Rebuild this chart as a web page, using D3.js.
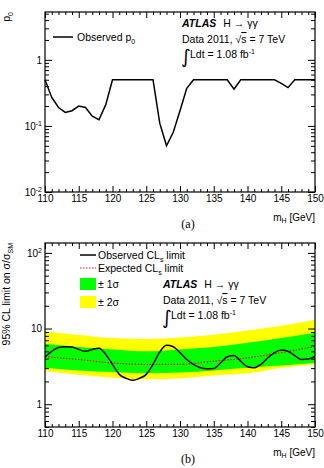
<!DOCTYPE html>
<html lang="en">
<head>
<meta charset="UTF-8">
<script src="https://d3js.org/d3.v7.min.js"></script>
<style>
  body { margin: 0; background: #fff; }
  svg { display: block; font-family: "Liberation Sans", Arial, sans-serif; }
  .tick text { font-size: 10px; fill: #000; }
  .tick line { stroke: #000; }
</style>
</head>
<body>
<svg id="chart" width="324" height="468"></svg>
<script>
// x axis (Higgs mass, GeV)
const massMajor = [110, 115, 120, 125, 130, 135, 140, 145, 150];
const massMinor = [111, 112, 113, 114, 116, 117, 118, 119, 121, 122, 123, 124, 126, 127, 128, 129,
  131, 132, 133, 134, 136, 137, 138, 139, 141, 142, 143, 144, 146, 147, 148, 149];

// panel (a): observed local p0
const p0Mass = [110, 111, 112, 113, 114, 115, 116, 117, 118, 119, 120, 126, 127, 128, 129, 130, 131, 132,
  137, 138, 139, 144, 145, 146, 147, 150];
const p0Obs = [0.5, 0.27, 0.19, 0.16, 0.17, 0.2, 0.19, 0.14, 0.124, 0.21, 0.5, 0.5, 0.11, 0.05, 0.08, 0.17, 0.37, 0.5,
  0.5, 0.36, 0.5, 0.5, 0.44, 0.38, 0.5, 0.5];

// panel (b): 95% CL limit on sigma/sigma_SM
const limMass = [110, 111, 112, 113, 114, 115, 116, 117, 118, 119, 120, 121, 122, 123, 124, 125, 126, 127, 128, 129,
  130, 131, 132, 133, 134, 135, 136, 137, 138, 139, 140, 141, 142, 143, 144, 145, 146, 147, 148, 149, 150];
const limObs = [4.2, 5.0, 5.6, 5.75, 5.7, 5.3, 5.0, 5.3, 5.5, 4.55, 3.36, 2.48, 2.2, 2.07, 2.2, 2.48, 3.36, 4.9, 6.0, 5.75,
  4.8, 3.9, 3.36, 3.04, 2.95, 2.97, 3.5, 4.24, 4.4, 3.7, 3.13, 3.04, 3.36, 4.1, 4.8, 5.2, 5.0, 4.4, 3.9, 3.95, 4.3];
const expMass = [110, 115, 120, 125, 130, 135, 140, 145, 150];
const limExp = [4.24, 3.9, 3.5, 3.36, 3.36, 3.7, 4.1, 4.8, 5.85];
const band1Up = [6.3, 5.7, 5.3, 5.0, 5.3, 5.7, 6.5, 7.5, 8.8];
const band1Dn = [3.04, 2.8, 2.66, 2.56, 2.62, 2.8, 3.04, 3.26, 3.5];
const band2Up = [9.2, 8.2, 7.5, 7.3, 7.6, 8.3, 9.4, 10.9, 13.1];
const band2Dn = [2.74, 2.45, 2.24, 2.13, 2.2, 2.4, 2.56, 3.04, 3.36];

const svg = d3.select("#chart");
const left = 45, right = 315;
const x = d3.scaleLinear().domain([110, 150]).range([left, right]);

const panelA = { top: 12, bottom: 192 };
const panelB = { top: 243, bottom: 427 };
const yA = d3.scaleLog().domain([0.01, 5.3]).range([panelA.bottom, panelA.top]);
const yB = d3.scaleLog().domain([0.5, 135]).range([panelB.bottom, panelB.top]);

function logMinors(y) {
  const [lo, hi] = y.domain();
  const out = [];
  for (let e = Math.floor(Math.log10(lo)); e <= Math.ceil(Math.log10(hi)); e++) {
    for (let k = 2; k <= 9; k++) {
      const v = k * Math.pow(10, e);
      if (v >= lo && v <= hi) out.push(v);
    }
  }
  return out;
}

function powLabel(sel) {
  sel.each(function (d) {
    const t = d3.select(this).text(null);
    const e = Math.round(Math.log10(d));
    if (e === 0) t.text("1");
    else if (e === 1) t.text("10");
    else {
      t.append("tspan").text("10");
      t.append("tspan").attr("dy", -4).style("font-size", "7px").text(e);
    }
  });
}

function frame(p, y, yMajor) {
  const g = svg.append("g");
  g.append("g").attr("transform", `translate(0,${p.bottom})`)
    .call(d3.axisBottom(x).tickValues(massMajor).tickSize(-6).tickSizeOuter(0).tickPadding(3));
  g.append("g").attr("transform", `translate(0,${p.bottom})`)
    .call(d3.axisBottom(x).tickValues(massMinor).tickSize(-3).tickSizeOuter(0).tickFormat(""));
  g.append("g").attr("transform", `translate(0,${p.top})`)
    .call(d3.axisTop(x).tickValues(massMajor).tickSize(-6).tickSizeOuter(0).tickFormat(""));
  g.append("g").attr("transform", `translate(0,${p.top})`)
    .call(d3.axisTop(x).tickValues(massMinor).tickSize(-3).tickSizeOuter(0).tickFormat(""));

  const yl = g.append("g").attr("transform", `translate(${left},0)`)
    .call(d3.axisLeft(y).tickValues(yMajor).tickSize(-7).tickSizeOuter(0).tickPadding(3));
  yl.selectAll(".tick text").call(powLabel);
  g.append("g").attr("transform", `translate(${left},0)`)
    .call(d3.axisLeft(y).tickValues(logMinors(y)).tickSize(-4).tickSizeOuter(0).tickFormat(""));
  g.append("g").attr("transform", `translate(${right},0)`)
    .call(d3.axisRight(y).tickValues(yMajor).tickSize(-7).tickSizeOuter(0).tickFormat(""));
  g.append("g").attr("transform", `translate(${right},0)`)
    .call(d3.axisRight(y).tickValues(logMinors(y)).tickSize(-4).tickSizeOuter(0).tickFormat(""));

  g.selectAll(".domain").remove();
  g.append("rect")
    .attr("x", left).attr("y", p.top)
    .attr("width", right - left).attr("height", p.bottom - p.top)
    .attr("fill", "none").attr("stroke", "#000").attr("stroke-width", 1.2);
  return g;
}

function atlasBlock(x0, y0) {
  const g = svg.append("g").style("font-size", "10.5px");
  const t1 = g.append("text").attr("x", x0).attr("y", y0);
  t1.append("tspan").style("font-weight", "bold").style("font-style", "italic").text("ATLAS");
  t1.append("tspan").attr("dx", 7).text("H \u2192 \u03b3\u03b3");
  const t2 = g.append("text").attr("x", x0).attr("y", y0 + 16);
  t2.append("tspan").text("Data 2011, \u221a");
  t2.append("tspan").style("text-decoration", "overline").text("s");
  t2.append("tspan").text(" = 7 TeV");
  g.append("text").attr("x", x0 - 1).attr("y", y0 + 36)
    .style("font-size", "19px").style("font-family", "'DejaVu Sans', sans-serif").text("\u222b");
  const t3 = g.append("text").attr("x", x0 + 8).attr("y", y0 + 31);
  t3.append("tspan").text("Ldt = 1.08 fb");
  t3.append("tspan").attr("dy", -4).style("font-size", "7px").text("-1");
}

function xTitle(p, tag) {
  svg.append("text").attr("x", right).attr("y", p.bottom + 29)
    .attr("text-anchor", "end").style("font-size", "10px")
    .call(t => {
      t.append("tspan").text("m");
      t.append("tspan").attr("dy", 2).style("font-size", "7px").text("H");
      t.append("tspan").attr("dy", -2).text(" [GeV]");
    });
  svg.append("text").attr("x", 188).attr("y", p.bottom + 36)
    .attr("text-anchor", "middle")
    .style("font-family", "'Liberation Serif', 'Times New Roman', serif").style("font-size", "12px")
    .text(tag);
}

// ---------- panel (a) ----------
frame(panelA, yA, [0.01, 0.1, 1]);

svg.append("path")
  .datum(p0Mass.map((m, i) => [m, p0Obs[i]]))
  .attr("fill", "none").attr("stroke", "#000").attr("stroke-width", 1.5)
  .attr("d", d3.line().x(d => x(d[0])).y(d => yA(d[1])));

svg.append("line").attr("x1", 53).attr("x2", 73).attr("y1", 37).attr("y2", 37)
  .attr("stroke", "#000").attr("stroke-width", 1.5);
svg.append("text").attr("x", 77).attr("y", 41).style("font-size", "10.5px")
  .call(t => {
    t.append("tspan").text("Observed p");
    t.append("tspan").attr("dy", 3).style("font-size", "7px").text("0");
  });
atlasBlock(182, 27);

svg.append("text").attr("transform", `translate(10,${panelA.top}) rotate(-90)`)
  .attr("text-anchor", "end").style("font-size", "10.5px")
  .call(t => {
    t.append("tspan").text("p");
    t.append("tspan").attr("dy", 3).style("font-size", "7px").text("0");
  });
xTitle(panelA, "(a)");

// ---------- panel (b) ----------
const clip = svg.append("clipPath").attr("id", "clipB").append("rect")
  .attr("x", left).attr("y", panelB.top).attr("width", right - left).attr("height", panelB.bottom - panelB.top);
const plotB = svg.append("g").attr("clip-path", "url(#clipB)");

const bandArea = (up, dn) => d3.area()
  .x((d, i) => x(expMass[i]))
  .y0((d, i) => yB(dn[i]))
  .y1((d, i) => yB(up[i]))
  .curve(d3.curveMonotoneX)(expMass);

plotB.append("path").attr("d", bandArea(band2Up, band2Dn)).attr("fill", "#ffff00");
plotB.append("path").attr("d", bandArea(band1Up, band1Dn)).attr("fill", "#00ff00");

plotB.append("path")
  .datum(expMass.map((m, i) => [m, limExp[i]]))
  .attr("fill", "none").attr("stroke", "#e8141c").attr("stroke-width", 1.2).attr("stroke-dasharray", "1.5,1.5")
  .attr("d", d3.line().x(d => x(d[0])).y(d => yB(d[1])).curve(d3.curveMonotoneX));

plotB.append("path")
  .datum(limMass.map((m, i) => [m, limObs[i]]))
  .attr("fill", "none").attr("stroke", "#000").attr("stroke-width", 1.5)
  .attr("d", d3.line().x(d => x(d[0])).y(d => yB(d[1])).curve(d3.curveMonotoneX));

frame(panelB, yB, [1, 10, 100]);

// legend (b)
const leg = svg.append("g").style("font-size", "10.5px");
leg.append("line").attr("x1", 80).attr("x2", 96).attr("y1", 255).attr("y2", 255)
  .attr("stroke", "#000").attr("stroke-width", 1.5);
leg.append("line").attr("x1", 80).attr("x2", 96).attr("y1", 268).attr("y2", 268)
  .attr("stroke", "#e8141c").attr("stroke-width", 1.2).attr("stroke-dasharray", "1.5,1.5");
leg.append("rect").attr("x", 80).attr("y", 278).attr("width", 16).attr("height", 12).attr("fill", "#00ff00");
leg.append("rect").attr("x", 80).attr("y", 296).attr("width", 16).attr("height", 12).attr("fill", "#ffff00");
[["Observed CL", 259], ["Expected CL", 272]].forEach(([s, yy]) => {
  leg.append("text").attr("x", 98).attr("y", yy).call(t => {
    t.append("tspan").text(s);
    t.append("tspan").attr("dy", 3).style("font-size", "7px").text("s");
    t.append("tspan").attr("dy", -3).text(" limit");
  });
});
leg.append("text").attr("x", 98).attr("y", 288).text("\u00b1 1\u03c3");
leg.append("text").attr("x", 98).attr("y", 306).text("\u00b1 2\u03c3");
atlasBlock(163, 288);

svg.append("text").attr("transform", `translate(10,${panelB.top}) rotate(-90)`)
  .attr("text-anchor", "end").style("font-size", "10.5px")
  .call(t => {
    t.append("tspan").text("95% CL limit on \u03c3/\u03c3");
    t.append("tspan").attr("dy", 3).style("font-size", "7px").text("SM");
  });
xTitle(panelB, "(b)");
</script>
</body>
</html>
